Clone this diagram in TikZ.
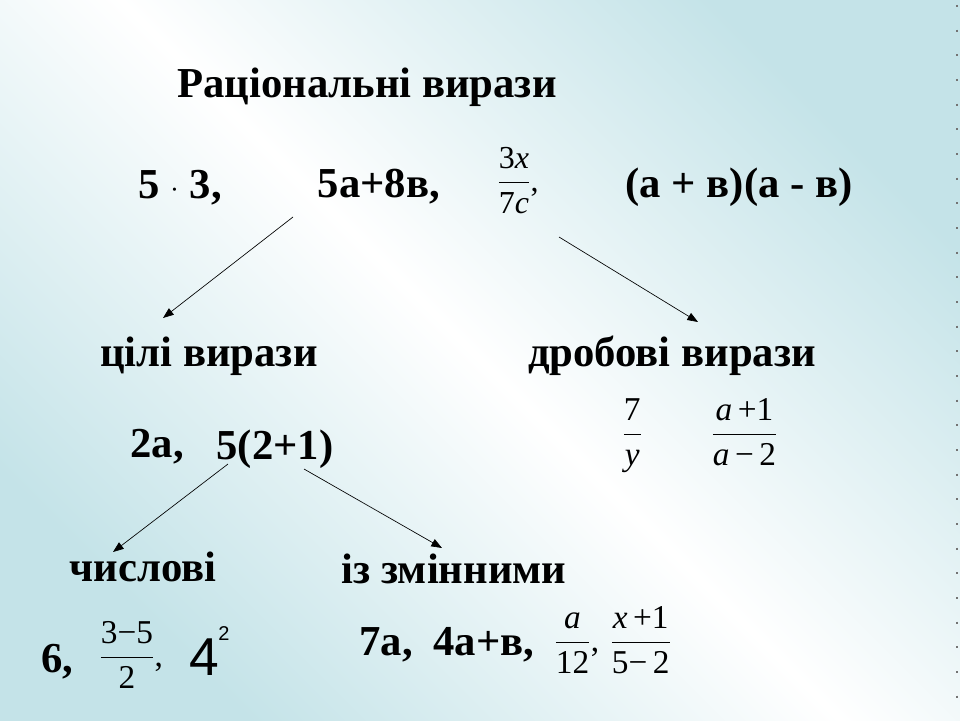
\documentclass[tikz,border=0pt]{standalone}
\usepackage{amsmath}
\usepackage{fontspec}
\setmainfont{Liberation Serif}
\newfontfamily\arialfont{Liberation Sans}
\usetikzlibrary{arrows.meta}
\definecolor{slideblue}{RGB}{196,227,232}
\newcommand{\slidefrac}[2]{$\displaystyle\frac{\text{#1}}{\text{#2}}$}
\tikzset{
    big/.style={font=\fontsize{32}{36}\selectfont\bfseries, inner sep=0pt, anchor=base},
    fr/.style={font=\fontsize{25}{28}\selectfont, inner sep=0pt, anchor=base west},
    arr/.style={-{Triangle[length=8pt,width=6pt]}, line width=0.5pt},
}
\begin{document}
\begin{tikzpicture}[x=0.75pt, y=-0.75pt]
    \shade[top color=slideblue, bottom color=slideblue, middle color=white, shading angle=-45] (0,0) rectangle (960,720);
    \draw[black!55, line width=1pt, dash pattern=on 1.5pt off 17pt] (957,5) -- (957,720);
    \node[big] (title) at (367, 98) {Раціональні вирази};
    \node[big] (prodnum) at (180, 198) {5 {\mdseries\fontsize{20}{20}\selectfont\textperiodcentered} 3,};
    \node[big] (sum) at (379, 197) {5а+8в,};
    \node[fr, font=\fontsize{24}{28}\selectfont] (fracxc) at (497, 191) {\slidefrac{3\textit{x}}{7\textit{c}},};
    \node[big] (prod) at (739, 197) {(а + в)(а - в)};
    \node[big] (whole) at (209, 366) {цілі вирази};
    \node[big] (fract) at (672, 366) {дробові вирази};
    \node[big] (twoa) at (157, 457) {2а,};
    \node[big] (five) at (275, 459) {5(2+1)};
    \node[fr] (fracy) at (622, 443) {\slidefrac{7}{\textit{y}}};
    \node[fr] (fraca) at (711, 443) {\slidefrac{\textit{a}\,+1}{\textit{a}\,−\,2}};
    \node[big] (numeric) at (143, 581) {числові};
    \node[big] (withvar) at (454, 583) {із змінними};
    \node[big] (six) at (57, 672) {6,};
    \node[fr] (fracnum) at (99, 666) {\slidefrac{3−5}{2},};
    \node[inner sep=0pt, anchor=base, font=\arialfont\fontsize{40}{40}\selectfont] (four) at (204, 675) {4};
    \node[inner sep=0pt, anchor=base, font=\arialfont\fontsize{15}{15}\selectfont] (sqr) at (224, 640) {2};
    \node[big] (sevena) at (386, 655) {7а,};
    \node[big] (foura) at (484, 655) {4а+в,};
    \node[fr] (fraca12) at (554, 651) {\slidefrac{\textit{a}}{12},};
    \node[fr] (fracx) at (610, 651) {\slidefrac{\textit{x}\,+1}{5−\,2}};
    \coordinate (sumout) at (293, 217);
    \coordinate (wholein) at (163, 318);
    \coordinate (fracout) at (559, 237);
    \coordinate (fractin) at (698, 322);
    \coordinate (fiveoutl) at (228, 464);
    \coordinate (numin) at (113, 552);
    \coordinate (fiveoutr) at (304, 469);
    \coordinate (varin) at (442, 548);
    \draw[arr] (sumout) -- (wholein);
    \draw[arr] (fracout) -- (fractin);
    \draw[arr] (fiveoutl) -- (numin);
    \draw[arr] (fiveoutr) -- (varin);
\end{tikzpicture}
\end{document}
